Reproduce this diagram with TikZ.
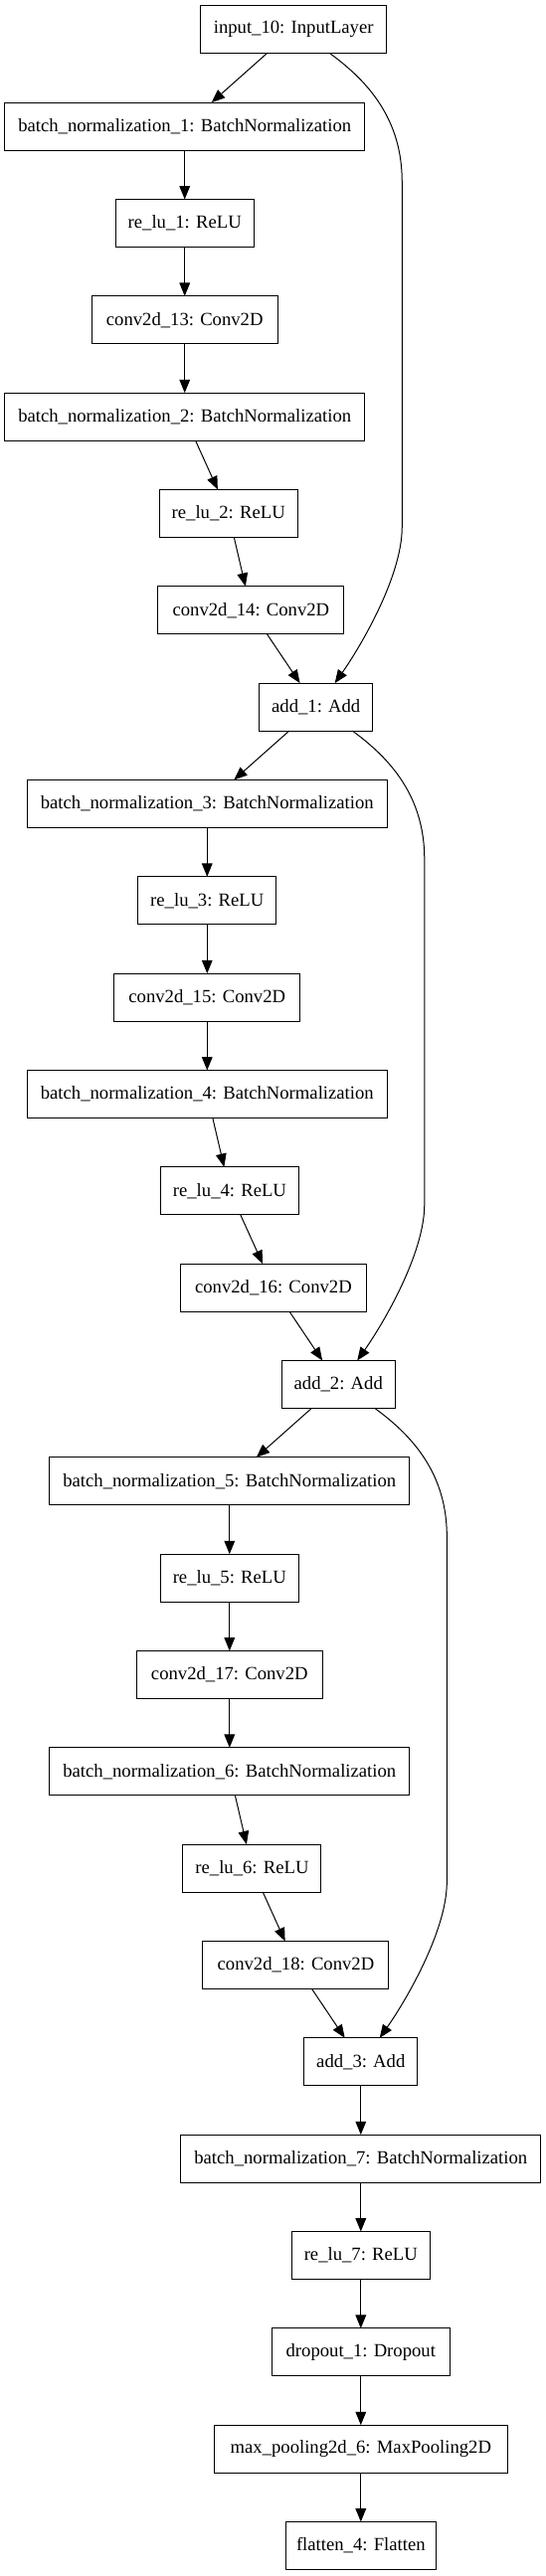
\documentclass[tikz,border=0pt]{standalone}
\usepackage{fontspec}
\setmainfont{Liberation Serif}
\usetikzlibrary{arrows.meta,positioning}

\begin{document}
\begin{tikzpicture}[node distance=37pt, line width=0.75pt, >={Triangle[length=10pt,width=8pt]},
  every node/.style={font=\fontsize{14pt}{16pt}\selectfont},
  box/.style={draw, minimum height=36pt, inner xsep=0pt, outer sep=0pt},
  bnbox/.style={box, minimum width=271.5pt},
  relubox/.style={box, minimum width=104.25pt},
  convbox/.style={box, minimum width=140.25pt},
  addbox/.style={box, minimum width=85.3pt}]
  \useasboundingbox (-221.4pt,22.35pt) rectangle (190.35pt,-1920.9pt);
  \node[convbox] (in10) {input\_10: InputLayer};
  % block 1
  \node[bnbox, below=of in10, xshift=-82.1pt] (bn1) {batch\_normalization\_1: BatchNormalization};
  \node[relubox, below=of bn1] (relu1) {re\_lu\_1: ReLU};
  \node[convbox, below=of relu1] (conv13) {conv2d\_13: Conv2D};
  \node[bnbox, below=of conv13] (bn2) {batch\_normalization\_2: BatchNormalization};
  \node[relubox, below=of bn2, xshift=33pt] (relu2) {re\_lu\_2: ReLU};
  \node[convbox, below=of relu2, xshift=17pt] (conv14) {conv2d\_14: Conv2D};
  \node[addbox, below=of conv14, xshift=49pt] (add1) {add\_1: Add};
  % block 2
  \node[bnbox, below=of add1, xshift=-82.1pt] (bn3) {batch\_normalization\_3: BatchNormalization};
  \node[relubox, below=of bn3] (relu3) {re\_lu\_3: ReLU};
  \node[convbox, below=of relu3] (conv15) {conv2d\_15: Conv2D};
  \node[bnbox, below=of conv15] (bn4) {batch\_normalization\_4: BatchNormalization};
  \node[relubox, below=of bn4, xshift=17pt] (relu4) {re\_lu\_4: ReLU};
  \node[convbox, below=of relu4, xshift=33pt] (conv16) {conv2d\_16: Conv2D};
  \node[addbox, below=of conv16, xshift=49pt] (add2) {add\_2: Add};
  % block 3
  \node[bnbox, below=of add2, xshift=-82.1pt] (bn5) {batch\_normalization\_5: BatchNormalization};
  \node[relubox, below=of bn5] (relu5) {re\_lu\_5: ReLU};
  \node[convbox, below=of relu5] (conv17) {conv2d\_17: Conv2D};
  \node[bnbox, below=of conv17] (bn6) {batch\_normalization\_6: BatchNormalization};
  \node[relubox, below=of bn6, xshift=17pt] (relu6) {re\_lu\_6: ReLU};
  \node[convbox, below=of relu6, xshift=33pt] (conv18) {conv2d\_18: Conv2D};
  \node[addbox, below=of conv18, xshift=49pt] (add3) {add\_3: Add};
  % head
  \node[bnbox, below=of add3] (bn7) {batch\_normalization\_7: BatchNormalization};
  \node[relubox, below=of bn7] (relu7) {re\_lu\_7: ReLU};
  \node[box, minimum width=134.25pt, below=of relu7] (drop1) {dropout\_1: Dropout};
  \node[box, minimum width=221.5pt, below=of drop1] (pool6) {max\_pooling2d\_6: MaxPooling2D};
  \node[box, minimum width=113pt, below=of pool6] (flat4) {flatten\_4: Flatten};
  \foreach \a/\b in {in10/bn1, bn1/relu1, relu1/conv13, conv13/bn2, bn2/relu2, relu2/conv14, conv14/add1,
      add1/bn3, bn3/relu3, relu3/conv15, conv15/bn4, bn4/relu4, relu4/conv16, conv16/add2,
      add2/bn5, bn5/relu5, relu5/conv17, conv17/bn6, bn6/relu6, relu6/conv18, conv18/add3,
      add3/bn7, bn7/relu7, relu7/drop1, drop1/pool6, pool6/flat4}
    \draw[->] (\a) -- (\b);
  % skip connections
  \foreach \s/\t/\n in {in10/add1/1, add1/add2/2, add2/add3/3} {
    \coordinate (skip\n a) at ([xshift=81.8pt, yshift=-96.75pt]\s.south);
    \coordinate (skip\n b) at ([xshift=81.8pt, yshift=-357.25pt]\s.south);
    \draw[->] ([xshift=27.5pt]\s.south) .. controls ([xshift=56.2pt, yshift=-21pt]\s.south)
      and ([xshift=81.8pt, yshift=-49.5pt]\s.south) .. (skip\n a) -- (skip\n b)
      .. controls ([xshift=81.8pt, yshift=-394.75pt]\s.south)
      and ([xshift=33.2pt, yshift=27pt]\t.north) .. ([xshift=14.2pt]\t.north);
  }
\end{tikzpicture}
\end{document}
